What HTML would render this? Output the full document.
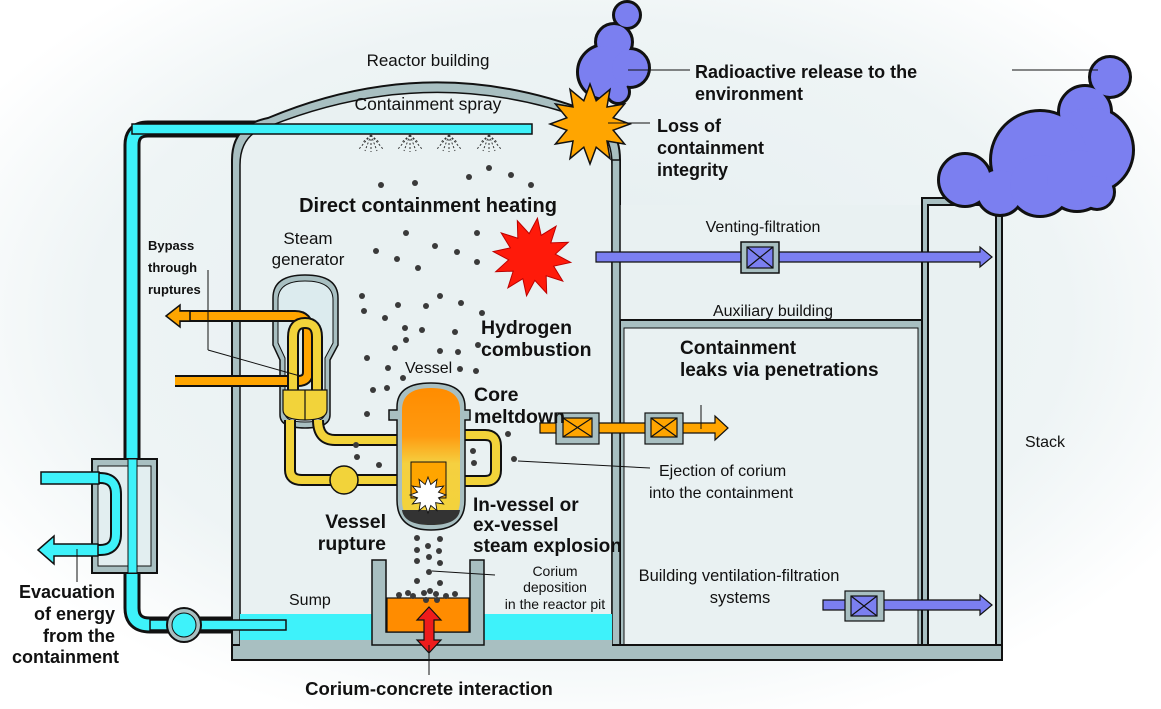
<!DOCTYPE html>
<html><head><meta charset="utf-8"><style>
html,body{margin:0;padding:0;width:1161px;height:709px;overflow:hidden;background:#fff}
svg{display:block}
text{font-family:"Liberation Sans",sans-serif;fill:#111}
.b{font-weight:bold}
</style></head><body>
<svg width="1161" height="709" viewBox="0 0 1161 709" xmlns="http://www.w3.org/2000/svg">
<defs>
<radialGradient id="bg" cx="0.5" cy="0.45" r="0.6">
<stop offset="0" stop-color="#e4eef0"/><stop offset="0.7" stop-color="#eef4f5"/><stop offset="1" stop-color="#ffffff"/>
</radialGradient>
<linearGradient id="vg" x1="0" y1="0" x2="0" y2="1">
<stop offset="0" stop-color="#ff8c00"/><stop offset="0.35" stop-color="#ff9a10"/><stop offset="0.55" stop-color="#f5d040"/><stop offset="1" stop-color="#f2d33a"/>
</linearGradient>
<polygon id="star" points="40,0 23.2,6.2 34.6,20 17,17 20,34.6 6.2,23.2 0,40 -6.2,23.2 -20,34.6 -17,17 -34.6,20 -23.2,6.2 -40,0 -23.2,-6.2 -34.6,-20 -17,-17 -20,-34.6 -6.2,-23.2 0,-40 6.2,-23.2 20,-34.6 17,-17 34.6,-20 23.2,-6.2"/>
</defs>
<rect width="1161" height="709" fill="url(#bg)"/>

<path d="M532,129 H148 Q132,129 132,145 V608 Q132,625 150,625 H285" fill="none" stroke="#111" stroke-width="17"/>
<path d="M532,129 H148 Q132,129 132,145 V608 Q132,625 150,625 H285" fill="none" stroke="#3ef2fa" stroke-width="11"/>

<path d="M232,660 V160 Q232,125 268,118 Q430,50 590,112 Q620,125 620,160 V660 Z" fill="#a8bfc1" stroke="#111" stroke-width="2"/>
<path d="M240,645 V165 Q240,133 270,126 Q430,62 588,120 Q612,132 612,165 V645 Z" fill="#e9f1f2" stroke="#111" stroke-width="1.5"/>
<rect x="132" y="124" width="400" height="10" fill="#3ef2fa" stroke="#111" stroke-width="1.5"/>

<rect x="620" y="205" width="302" height="115" fill="#e9f1f2"/>
<rect x="620" y="320" width="302" height="340" fill="#a8bfc1" stroke="#111" stroke-width="2"/>
<rect x="624" y="328" width="294" height="317" fill="#e9f1f2" stroke="#111" stroke-width="1"/>
<rect x="922" y="198" width="80" height="462" fill="#a8bfc1" stroke="#111" stroke-width="2"/>
<rect x="928" y="205" width="68" height="445" fill="#e9f1f2" stroke="#111" stroke-width="2"/>
<rect x="612" y="160" width="8" height="500" fill="#a8bfc1" stroke="#111" stroke-width="1.5"/>
<rect x="232" y="645" width="770" height="15" fill="#a8bfc1" stroke="#111" stroke-width="2"/>

<rect x="240" y="614" width="134" height="26" fill="#3ef2fa"/>
<rect x="484" y="614" width="128" height="26" fill="#3ef2fa"/>
<rect x="240" y="640" width="372" height="8" fill="#a8bfc1"/>
<rect x="150" y="620" width="136" height="10" fill="#3ef2fa" stroke="#111" stroke-width="1.5"/>
<path d="M372,560 H386 V632 H470 V560 H484 V645 H372 Z" fill="#a8bfc1" stroke="#111" stroke-width="1.5"/>
<rect x="387" y="598" width="82" height="34" fill="#ff8c00" stroke="#111" stroke-width="1.2"/>

<circle cx="184" cy="625" r="17" fill="#a8bfc1" stroke="#111" stroke-width="2"/>
<circle cx="184" cy="625" r="12" fill="#3ef2fa" stroke="#111" stroke-width="1"/>

<rect x="92" y="459" width="65" height="114" fill="#a8bfc1" stroke="#111" stroke-width="2"/>
<rect x="98" y="466" width="53" height="100" fill="#e2eef0" stroke="#111" stroke-width="1"/>
<rect x="128" y="459" width="9" height="114" fill="#3ef2fa" stroke="#111" stroke-width="1"/>
<path d="M42,478 H100 Q116,478 116,494 V534 Q116,550 100,550 H55" fill="none" stroke="#111" stroke-width="12"/>
<path d="M42,478 H100 Q116,478 116,494 V534 Q116,550 100,550 H55" fill="none" stroke="#3ef2fa" stroke-width="8"/>
<rect x="41" y="472" width="58" height="12" fill="#3ef2fa" stroke="#111" stroke-width="1.5"/>
<polygon points="38,550 54,536 54,544 98,544 98,556 54,556 54,564" fill="#3ef2fa" stroke="#111" stroke-width="1.5"/>
<line x1="77" y1="549" x2="77" y2="582" stroke="#111" stroke-width="1"/>

<g stroke="#333" stroke-width="1" stroke-dasharray="2,2" fill="none">
<g id="nz"><path d="M371,135 l-12,14 M371,135 l-6,16 M371,135 l0,17 M371,135 l6,16 M371,135 l12,14 M371,135 l-9,8 M371,135 l9,8"/></g>
<use href="#nz" x="39"/><use href="#nz" x="78"/><use href="#nz" x="118"/>
</g>

<path d="M273,345 V298 Q273,275 305,275 Q338,275 338,298 V345 L330,360 V415 Q330,428 305,428 Q280,428 280,415 V360 Z" fill="#a8bfc1" stroke="#111" stroke-width="1.5"/>
<path d="M278,343 V300 Q278,281 305,281 Q333,281 333,300 V343 L325,358 V413 Q325,422 305,422 Q285,422 285,413 V358 Z" fill="#dcebee" stroke="#111" stroke-width="1"/>
<path d="M180,316 H295 Q308,316 308,330 V372 Q308,381 298,381 H175" fill="none" stroke="#111" stroke-width="12"/>
<path d="M180,316 H295 Q308,316 308,330 V372 Q308,381 298,381 H175" fill="none" stroke="#ffa500" stroke-width="8"/>
<polygon points="166,316 180,305 180,311 190,311 190,321 180,321 180,327" fill="#ffa500" stroke="#111" stroke-width="1.5"/>
<path d="M293,395 V337 Q293,323 305,323 Q317,323 317,337 V395" fill="none" stroke="#111" stroke-width="12"/>
<path d="M293,395 V337 Q293,323 305,323 Q317,323 317,337 V395" fill="none" stroke="#f2d33a" stroke-width="8"/>
<path d="M283,390 H327 V410 Q327,420 305,420 Q283,420 283,410 Z" fill="#f2d33a" stroke="#111" stroke-width="1.2"/>
<line x1="305" y1="390" x2="305" y2="420" stroke="#111" stroke-width="1.2"/>
<line x1="208" y1="270" x2="208" y2="350" stroke="#111" stroke-width="1"/>
<line x1="208" y1="350" x2="300" y2="376" stroke="#111" stroke-width="1"/>

<g fill="none">
<path d="M318,420 Q318,440 335,440 H400" stroke="#111" stroke-width="12"/>
<path d="M318,420 Q318,440 335,440 H400" stroke="#f2d33a" stroke-width="8"/>
<path d="M290,420 V470 Q290,480 302,480 H400" stroke="#111" stroke-width="12"/>
<path d="M290,420 V470 Q290,480 302,480 H400" stroke="#f2d33a" stroke-width="8"/>
<path d="M460,435 H485 Q496,435 496,446 V470 Q496,481 485,481 H460" stroke="#111" stroke-width="12"/>
<path d="M460,435 H485 Q496,435 496,446 V470 Q496,481 485,481 H460" stroke="#f2d33a" stroke-width="8"/>
</g>
<circle cx="344" cy="480" r="14" fill="#f2d33a" stroke="#111" stroke-width="1.5"/>

<path d="M397,407 V410 H389 V420 H397 V500 Q397,530 431,530 Q465,530 465,500 V420 H470 V410 H465 V407 Q465,383 431,383 Q397,383 397,407 Z" fill="#a8bfc1" stroke="#111" stroke-width="1.5"/>
<path d="M402,410 Q402,388 431,388 Q460,388 460,410 V500 Q460,525 431,525 Q402,525 402,500 Z" fill="url(#vg)"/>
<path d="M402,510 H460 Q458,525 431,525 Q404,525 402,510 Z" fill="#333"/>
<rect x="411" y="462" width="35" height="36" fill="#ffa500" stroke="#111" stroke-width="1"/>
<use href="#star" transform="translate(428,495) scale(0.45)" fill="#fff" stroke="#111" stroke-width="2"/>

<g fill="#3a3a3a">
<circle cx="381" cy="185" r="3"/><circle cx="415" cy="183" r="3"/><circle cx="469" cy="177" r="3"/><circle cx="489" cy="168" r="3"/><circle cx="511" cy="175" r="3"/><circle cx="531" cy="185" r="3"/>
<circle cx="406" cy="233" r="3"/><circle cx="435" cy="246" r="3"/><circle cx="477" cy="233" r="3"/><circle cx="376" cy="251" r="3"/><circle cx="397" cy="259" r="3"/><circle cx="457" cy="252" r="3"/><circle cx="418" cy="268" r="3"/><circle cx="477" cy="262" r="3"/>
<circle cx="362" cy="296" r="3"/><circle cx="364" cy="311" r="3"/><circle cx="385" cy="318" r="3"/><circle cx="398" cy="305" r="3"/><circle cx="426" cy="306" r="3"/><circle cx="440" cy="296" r="3"/><circle cx="461" cy="303" r="3"/><circle cx="482" cy="313" r="3"/>
<circle cx="405" cy="328" r="3"/><circle cx="422" cy="330" r="3"/><circle cx="455" cy="332" r="3"/><circle cx="406" cy="340" r="3"/><circle cx="395" cy="348" r="3"/><circle cx="440" cy="351" r="3"/><circle cx="458" cy="352" r="3"/><circle cx="478" cy="345" r="3"/>
<circle cx="367" cy="358" r="3"/><circle cx="388" cy="368" r="3"/><circle cx="403" cy="378" r="3"/><circle cx="460" cy="369" r="3"/><circle cx="476" cy="371" r="3"/><circle cx="373" cy="390" r="3"/><circle cx="387" cy="388" r="3"/>
<circle cx="367" cy="414" r="3"/><circle cx="356" cy="445" r="3"/><circle cx="357" cy="457" r="3"/><circle cx="379" cy="465" r="3"/><circle cx="473" cy="451" r="3"/><circle cx="474" cy="463" r="3"/><circle cx="508" cy="434" r="3"/><circle cx="514" cy="459" r="3"/>
<circle cx="417" cy="538" r="3"/><circle cx="440" cy="539" r="3"/><circle cx="417" cy="550" r="3"/><circle cx="428" cy="546" r="3"/><circle cx="439" cy="551" r="3"/><circle cx="417" cy="561" r="3"/><circle cx="429" cy="557" r="3"/><circle cx="440" cy="563" r="3"/><circle cx="429" cy="572" r="3"/><circle cx="417" cy="581" r="3"/><circle cx="440" cy="583" r="3"/>
<circle cx="399" cy="595" r="3"/><circle cx="408" cy="593" r="3"/><circle cx="413" cy="596" r="3"/><circle cx="424" cy="593" r="3"/><circle cx="430" cy="591" r="3"/><circle cx="436" cy="594" r="3"/><circle cx="446" cy="596" r="3"/><circle cx="455" cy="594" r="3"/><circle cx="426" cy="600" r="3"/><circle cx="437" cy="600" r="3"/>
</g>
<line x1="432" y1="571" x2="495" y2="575" stroke="#111" stroke-width="1"/>
<line x1="518" y1="461" x2="650" y2="468" stroke="#111" stroke-width="1"/>

<polygon points="429,607 441,620 434,620 434,640 441,640 429,653 417,640 424,640 424,620 417,620" fill="#ee1c1c" stroke="#111" stroke-width="1.2"/>
<line x1="429" y1="645" x2="429" y2="675" stroke="#111" stroke-width="1"/>

<polygon points="540,423 715,423 715,416 728,428 715,440 715,433 540,433" fill="#ffa500" stroke="#111" stroke-width="1.2"/>
<rect x="556" y="413" width="43" height="31" fill="#a8bfc1" stroke="#111" stroke-width="1.2"/>
<rect x="563" y="418" width="29" height="19" fill="#ffa500" stroke="#111" stroke-width="1.2"/>
<path d="M563,418 L592,437 M592,418 L563,437" stroke="#111" stroke-width="1.2"/>
<rect x="645" y="413" width="38" height="31" fill="#a8bfc1" stroke="#111" stroke-width="1.2"/>
<rect x="651" y="418" width="26" height="19" fill="#ffa500" stroke="#111" stroke-width="1.2"/>
<path d="M651,418 L677,437 M677,418 L651,437" stroke="#111" stroke-width="1.2"/>
<line x1="701" y1="405" x2="701" y2="429" stroke="#111" stroke-width="1"/>

<polygon points="596,252 980,252 980,247 992,257 980,267 980,262 596,262" fill="#7b7ff0" stroke="#111" stroke-width="1.2"/>
<rect x="741" y="242" width="38" height="31" fill="#a8bfc1" stroke="#111" stroke-width="1.5"/>
<rect x="747" y="247" width="26" height="21" fill="#7b7ff0" stroke="#111" stroke-width="1.2"/>
<path d="M747,247 L773,268 M773,247 L747,268" stroke="#111" stroke-width="1.2"/>
<polygon points="823,600 980,600 980,595 992,605 980,615 980,610 823,610" fill="#7b7ff0" stroke="#111" stroke-width="1.2"/>
<rect x="845" y="591" width="39" height="30" fill="#a8bfc1" stroke="#111" stroke-width="1.2"/>
<rect x="851" y="596" width="26" height="20" fill="#7b7ff0" stroke="#111" stroke-width="1.2"/>
<path d="M851,596 L877,616 M877,596 L851,616" stroke="#111" stroke-width="1.2"/>

<g stroke="#111" stroke-width="6" fill="#7b7ff0">
<circle cx="627" cy="15" r="12"/><circle cx="614" cy="42" r="17"/><circle cx="605" cy="72" r="26"/><circle cx="630" cy="68" r="18"/><circle cx="618" cy="92" r="10"/>
<circle cx="1110" cy="77" r="19"/><circle cx="1085" cy="112" r="25"/><circle cx="1090" cy="150" r="42"/><circle cx="1040" cy="160" r="48"/><circle cx="965" cy="180" r="25"/><circle cx="1000" cy="192" r="22"/><circle cx="1040" cy="185" r="30"/><circle cx="1077" cy="180" r="30"/><circle cx="1097" cy="192" r="16"/>
</g>
<g fill="#7b7ff0">
<circle cx="627" cy="15" r="12"/><circle cx="614" cy="42" r="17"/><circle cx="605" cy="72" r="26"/><circle cx="630" cy="68" r="18"/><circle cx="618" cy="92" r="10"/>
<circle cx="1110" cy="77" r="19"/><circle cx="1085" cy="112" r="25"/><circle cx="1090" cy="150" r="42"/><circle cx="1040" cy="160" r="48"/><circle cx="965" cy="180" r="25"/><circle cx="1000" cy="192" r="22"/><circle cx="1040" cy="185" r="30"/><circle cx="1077" cy="180" r="30"/><circle cx="1097" cy="192" r="16"/>
</g>
<use href="#star" transform="translate(590,124) scale(1.0)" fill="#ffa500" stroke="#111" stroke-width="1.5"/>
<use href="#star" transform="translate(532,257) scale(0.98) rotate(8)" fill="#ff1a0a" stroke="#b00" stroke-width="1"/>

<g stroke="#111" stroke-width="1">
<line x1="628" y1="70" x2="690" y2="70"/><line x1="1012" y1="70" x2="1098" y2="70"/>
<line x1="608" y1="123" x2="650" y2="123"/>
</g>

<text x="428" y="66" font-size="17" text-anchor="middle">Reactor building</text>
<text x="428" y="110" font-size="17.5" text-anchor="middle">Containment spray</text>
<text x="428" y="212" font-size="20" class="b" text-anchor="middle">Direct containment heating</text>
<text x="308" y="244" font-size="17" text-anchor="middle">Steam</text>
<text x="308" y="265" font-size="17" text-anchor="middle">generator</text>
<text x="148" y="250" font-size="13" class="b">Bypass</text>
<text x="148" y="272" font-size="13" class="b">through</text>
<text x="148" y="294" font-size="13" class="b">ruptures</text>
<text x="481" y="334" font-size="19.5" class="b">Hydrogen</text>
<text x="481" y="356" font-size="19.5" class="b">combustion</text>
<text x="405" y="373" font-size="16">Vessel</text>
<text x="474" y="401" font-size="19.5" class="b">Core</text>
<text x="474" y="423" font-size="19.5" class="b">meltdown</text>
<text x="473" y="511" font-size="19" class="b">In-vessel or</text>
<text x="473" y="531" font-size="19" class="b">ex-vessel</text>
<text x="473" y="552" font-size="19" class="b">steam explosion</text>
<text x="386" y="528" font-size="19.5" class="b" text-anchor="end">Vessel</text>
<text x="386" y="550" font-size="19.5" class="b" text-anchor="end">rupture</text>
<text x="555" y="576" font-size="14" text-anchor="middle">Corium</text>
<text x="555" y="592" font-size="14" text-anchor="middle">deposition</text>
<text x="555" y="609" font-size="14" text-anchor="middle">in the reactor pit</text>
<text x="289" y="605" font-size="16">Sump</text>
<text x="429" y="695" font-size="18.5" class="b" text-anchor="middle">Corium-concrete interaction</text>
<text x="115" y="598" font-size="18" class="b" text-anchor="end">Evacuation</text>
<text x="115" y="620" font-size="18" class="b" text-anchor="end">of energy</text>
<text x="115" y="642" font-size="18" class="b" text-anchor="end">from the</text>
<text x="119" y="663" font-size="18" class="b" text-anchor="end">containment</text>
<text x="695" y="78" font-size="18" class="b">Radioactive release to the</text>
<text x="695" y="100" font-size="18" class="b">environment</text>
<text x="657" y="132" font-size="18" class="b">Loss of</text>
<text x="657" y="154" font-size="18" class="b">containment</text>
<text x="657" y="176" font-size="18" class="b">integrity</text>
<text x="763" y="232" font-size="16" text-anchor="middle">Venting-filtration</text>
<text x="773" y="316" font-size="16" text-anchor="middle">Auxiliary building</text>
<text x="680" y="354" font-size="19" class="b">Containment</text>
<text x="680" y="376" font-size="19" class="b">leaks via penetrations</text>
<text x="659" y="476" font-size="16">Ejection of corium</text>
<text x="649" y="498" font-size="16">into the containment</text>
<text x="739" y="581" font-size="16.5" text-anchor="middle">Building ventilation-filtration</text>
<text x="740" y="603" font-size="16.5" text-anchor="middle">systems</text>
<text x="1025" y="447" font-size="16">Stack</text>
</svg>
</body></html>
